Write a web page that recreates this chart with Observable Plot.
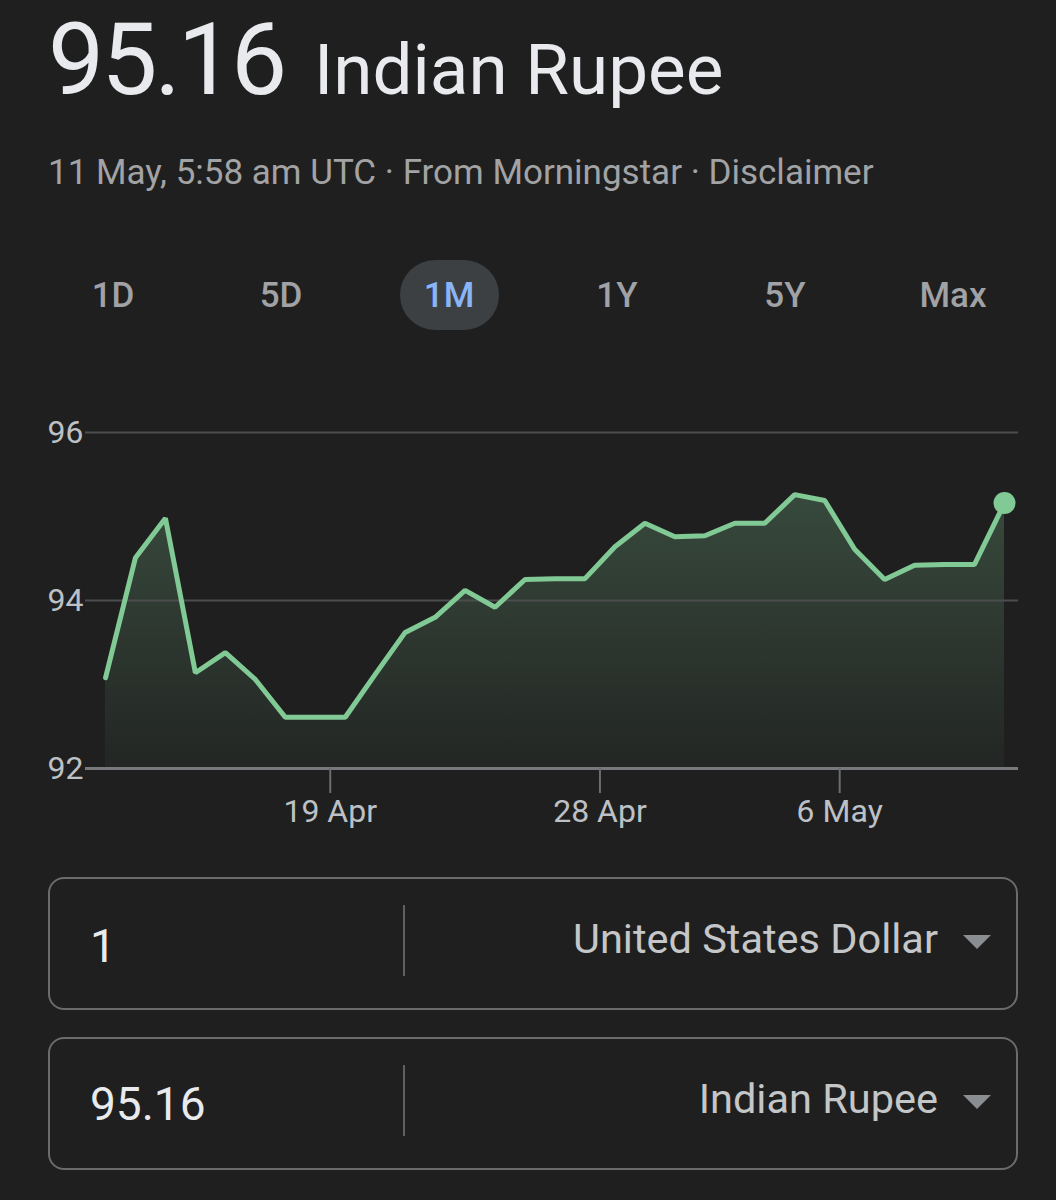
<!DOCTYPE html>
<html>
<head>
<meta charset="utf-8">
<script src="https://cdn.jsdelivr.net/npm/d3@7"></script>
<script src="https://cdn.jsdelivr.net/npm/@observablehq/plot@0.6"></script>
<style>
  html, body { margin: 0; padding: 0; background: #1f1f1f; }
  body { width: 1056px; height: 1200px; position: relative; overflow: hidden; font-family: Roboto, "Noto Sans", sans-serif; }
  .abs { position: absolute; line-height: 1; white-space: nowrap; }
  .tab { position: absolute; width: 168px; text-align: center; font-size: 35px; font-weight: 500; color: #a0a2a5; line-height: 1; }
  .pill { position: absolute; background: #3c4043; border-radius: 35px; }
  .box { position: absolute; left: 48px; width: 966px; height: 129px; border: 2px solid #6a6b6d; border-radius: 16px; box-sizing: content-box; }
  .sep { position: absolute; left: 403px; width: 2px; height: 71px; background: #5f6063; }
  .val { position: absolute; left: 90px; font-size: 46px; color: #e8eaed; line-height: 1; }
  .name { position: absolute; right: 118px; font-size: 41.5px; color: #c4c6c8; line-height: 1; white-space: nowrap; }
  .tri { position: absolute; left: 963px; width: 0; height: 0; border-left: 14px solid transparent; border-right: 14px solid transparent; border-top: 14px solid #8a8d91; }
  #chart { position: absolute; left: 0; top: 400px; }
</style>
</head>
<body>
<div class="abs" style="left:48px; top:10px; font-size:100px; letter-spacing:-3px; color:#e8eaed;">95.16</div>
<div class="abs" style="left:314px; top:34px; font-size:71px; color:#e8eaed;">Indian Rupee</div>
<div class="abs" style="left:48px; top:155px; font-size:35px; color:#a2a3a5;">11 May, 5:58 am UTC · From Morningstar · Disclaimer</div>

<div class="pill" style="left:400px; top:260px; width:99px; height:70px;"></div>
<div id="tabs"></div>

<div id="chart"></div>

<div class="box" style="top:877px;"></div>
<div class="sep" style="top:905px;"></div>
<div class="val" style="top:923px;">1</div>
<div class="name" style="top:918px;">United States Dollar</div>
<div class="tri" style="top:935px;"></div>

<div class="box" style="top:1037px;"></div>
<div class="sep" style="top:1065px;"></div>
<div class="val" style="top:1081px;">95.16</div>
<div class="name" style="top:1078px;">Indian Rupee</div>
<div class="tri" style="top:1095px;"></div>

<script>
// ---- data ----
const tabLabels = ["1D", "5D", "1M", "1Y", "5Y", "Max"];
const activeTab = "1M";

const dates = [
  "2026-04-11","2026-04-12","2026-04-13","2026-04-14","2026-04-15","2026-04-16","2026-04-17",
  "2026-04-18","2026-04-19","2026-04-20","2026-04-21","2026-04-22","2026-04-23","2026-04-24",
  "2026-04-25","2026-04-26","2026-04-27","2026-04-28","2026-04-29","2026-04-30","2026-05-01",
  "2026-05-02","2026-05-03","2026-05-04","2026-05-05","2026-05-06","2026-05-07","2026-05-08",
  "2026-05-09","2026-05-10","2026-05-11"
];
const rates = [
  93.08, 94.51, 94.98, 93.14, 93.38, 93.06, 92.61,
  92.61, 92.61, 93.12, 93.62, 93.80, 94.12, 93.92,
  94.25, 94.26, 94.26, 94.64, 94.92, 94.76, 94.77,
  94.92, 94.92, 95.26, 95.19, 94.61, 94.25, 94.42,
  94.43, 94.43, 95.16
];
const yTicks = [92, 94, 96];
const xTickDates = ["2026-04-19", "2026-04-28", "2026-05-06"];
const xTickLabels = ["19 Apr", "28 Apr", "6 May"];

// ---- tabs ----
const tabs = document.getElementById("tabs");
tabLabels.forEach((t, i) => {
  const d = document.createElement("div");
  d.className = "tab";
  d.style.left = (29 + 168 * i) + "px";
  d.style.top = "278px";
  d.textContent = t;
  if (t === activeTab) d.style.color = "#8ab4f8";
  tabs.appendChild(d);
});

// ---- chart ----
const data = dates.map((d, i) => ({date: new Date(d + "T12:00:00Z"), value: rates[i]}));
const tickDates = xTickDates.map(d => new Date(d + "T00:00:00Z"));
const labelOf = new Map(tickDates.map((d, i) => [+d, xTickLabels[i]]));
const last = data[data.length - 1];

const gradient = () => {
  const defs = d3.create("svg:defs");
  const g = defs.append("linearGradient").attr("id", "fillGrad")
    .attr("x1", 0).attr("y1", 0).attr("x2", 0).attr("y2", 1);
  g.append("stop").attr("offset", "0%").attr("stop-color", "#81c995").attr("stop-opacity", 0.25);
  g.append("stop").attr("offset", "100%").attr("stop-color", "#81c995").attr("stop-opacity", 0.04);
  return defs.node();
};

const chart = Plot.plot({
  width: 1056,
  height: 428,
  marginTop: 32,
  marginBottom: 60,
  marginLeft: 105,
  marginRight: 52,
  style: {background: "transparent", color: "#bdc1c6", fontFamily: "Roboto, sans-serif", fontSize: "32px", overflow: "visible"},
  x: {type: "utc", domain: [data[0].date, last.date]},
  y: {domain: [yTicks[0], yTicks[yTicks.length - 1]]},
  marks: [
    gradient,
    Plot.areaY(data, {x: "date", y1: yTicks[0], y2: "value", fill: "url(#fillGrad)"}),
    Plot.ruleY(yTicks.slice(1), {stroke: "#4b4c4e", strokeWidth: 2, insetLeft: -20, insetRight: -14}),
    Plot.ruleY([yTicks[0]], {stroke: "#77797c", strokeWidth: 3, insetLeft: -20, insetRight: -14}),
    Plot.axisY(yTicks, {tickSize: 0, tickPadding: 22, fontSize: 32, fill: "#bdc1c6", label: null,
      tickFormat: d => String(d)}),
    Plot.axisX(tickDates, {tickSize: 25, tickPadding: 6, stroke: "#6b6d70", strokeWidth: 2, fontSize: 32, fill: "#bdc1c6",
      label: null, tickFormat: d => labelOf.get(+d)}),
    Plot.line(data, {x: "date", y: "value", stroke: "#81c995", strokeWidth: 5, strokeLinejoin: "miter"}),
    Plot.dot([last], {x: "date", y: "value", r: 11, fill: "#81c995", stroke: null})
  ]
});
document.getElementById("chart").appendChild(chart);
</script>
</body>
</html>
